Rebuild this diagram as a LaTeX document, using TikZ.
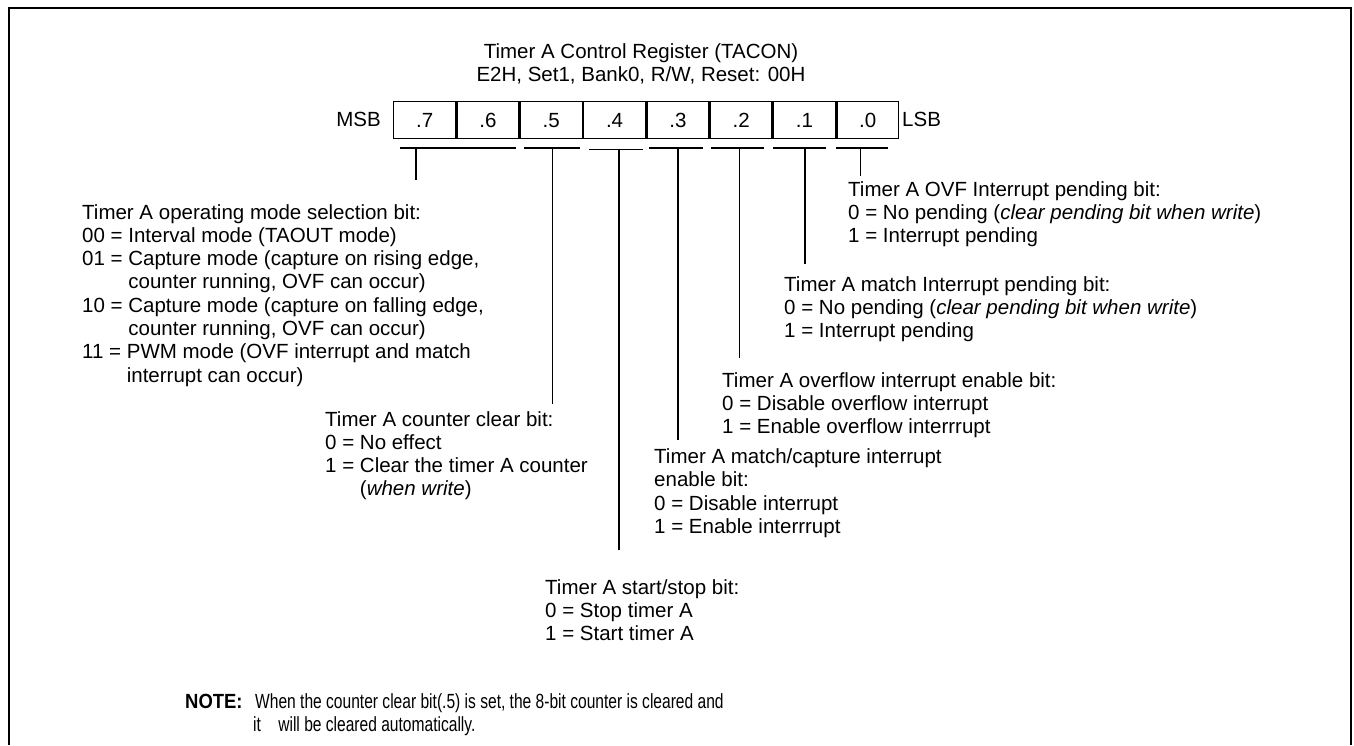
\documentclass[tikz,border=0pt]{standalone}
\usepackage{fontspec}
\setmainfont{Liberation Sans}
\newfontfamily\notefont[FakeStretch=0.76]{Liberation Sans}
\newfontfamily\notelabelfont[FakeStretch=0.9]{Liberation Sans}
\begin{document}
\begin{tikzpicture}[x=1pt,y=-1pt,
  txt/.style={anchor=base west,inner sep=0pt,font=\fontsize{20.5}{23.3}\selectfont},
  ctxt/.style={anchor=base,inner sep=0pt,font=\fontsize{20.5}{23.3}\selectfont},
  cellbox/.style={draw,line width=1.4pt,minimum width=61.9pt,minimum height=37pt,inner sep=0pt,anchor=north west,font=\fontsize{20.5}{23.3}\selectfont},
  uline/.style={line width=1.1pt},
  lead/.style={line width=1.1pt},
  frame/.style={line width=2pt}]
\useasboundingbox (0,0) rectangle (1354,745);
\draw[frame] (9,745) -- (9,8) -- (1351,8) -- (1351,745);

% title
\node[ctxt] (title) at (641,58) {\begin{tabular}[t]{@{}c@{}}Timer A Control Register (TACON)\\ E2H, Set1, Bank0, R/W, Reset: 00H\end{tabular}};

% register
\node[cellbox] (b7) at (393,101) {.7};
\node[cellbox] (b6) at (b7.north east) {.6};
\node[cellbox] (b5) at (b6.north east) {.5};
\node[cellbox] (b4) at (b5.north east) {.4};
\node[cellbox] (b3) at (b4.north east) {.3};
\node[cellbox] (b2) at (b3.north east) {.2};
\node[cellbox] (b1) at (b2.north east) {.1};
\node[cellbox] (b0) at (b1.north east) {.0};
\node[ctxt,anchor=base east] (msb) at (381,126.5) {MSB};
\node[ctxt,anchor=base west] (lsb) at (902,126.5) {LSB};

% underlines
\coordinate (u7a) at (400,148);   \coordinate (u7b) at (516,148);
\coordinate (u5a) at (524,148);   \coordinate (u5b) at (580,148);
\coordinate (u4a) at (589,149.5); \coordinate (u4b) at (643,149.5);
\coordinate (u3a) at (649,148);   \coordinate (u3b) at (703,148);
\coordinate (u2a) at (711,148);   \coordinate (u2b) at (764,148);
\coordinate (u1a) at (773,148);   \coordinate (u1b) at (826,148);
\coordinate (u0a) at (836,148);   \coordinate (u0b) at (888,148);
\draw[uline] (u7a) -- (u7b);
\draw[uline] (u5a) -- (u5b);
\draw[uline] (u4a) -- (u4b);
\draw[uline] (u3a) -- (u3b);
\draw[uline] (u2a) -- (u2b);
\draw[uline] (u1a) -- (u1b);
\draw[uline] (u0a) -- (u0b);

% leader lines
\coordinate (t7) at (416,148);   \coordinate (e7) at (416,180);
\coordinate (t5) at (552.5,148); \coordinate (e5) at (552.5,404);
\coordinate (t4) at (619,149.5); \coordinate (e4) at (619,550);
\coordinate (t3) at (678,148);   \coordinate (e3) at (678,440);
\coordinate (t2) at (739.5,148); \coordinate (e2) at (739.5,358);
\coordinate (t1) at (805,148);   \coordinate (e1) at (805,264);
\coordinate (t0) at (860.5,148); \coordinate (e0) at (860.5,176);
\draw[lead] (t7) -- (e7);
\draw[lead] (t5) -- (e5);
\draw[lead] (t4) -- (e4);
\draw[lead] (t3) -- (e3);
\draw[lead] (t2) -- (e2);
\draw[lead] (t1) -- (e1);
\draw[lead] (t0) -- (e0);

% descriptions
\node[txt] (opmode) at (82,219) {\begin{tabular}[t]{@{}l@{}}
Timer A operating mode selection bit:\\
00 = Interval mode (TAOUT mode)\\
01 = Capture mode (capture on rising edge,\\
\phantom{01 = }counter running, OVF can occur)\\
10 = Capture mode (capture on falling edge,\\
\phantom{10 = }counter running, OVF can occur)\\
11 = PWM mode (OVF interrupt and match\\
\phantom{11 = }interrupt can occur)
\end{tabular}};

\node[txt] (clr) at (325,426) {\begin{tabular}[t]{@{}l@{}}
Timer A counter clear bit:\\
0 = No effect\\
1 = Clear the timer A counter\\
\phantom{1 = }(\textit{when write})
\end{tabular}};

\node[txt] (ss) at (545,594) {\begin{tabular}[t]{@{}l@{}}
Timer A start/stop bit:\\
0 = Stop timer A\\
1 = Start timer A
\end{tabular}};

\node[txt] (mcie) at (654,463.5) {\begin{tabular}[t]{@{}l@{}}
Timer A match/capture interrupt\\
enable bit:\\
0 = Disable interrupt\\
1 = Enable interrrupt
\end{tabular}};

\node[txt] (ovie) at (722,387) {\begin{tabular}[t]{@{}l@{}}
Timer A overflow interrupt enable bit:\\
0 = Disable overflow interrupt\\
1 = Enable overflow interrrupt
\end{tabular}};

\node[txt] (mip) at (784,291) {\begin{tabular}[t]{@{}l@{}}
Timer A match Interrupt pending bit:\\
0 = No pending (\textit{clear pending bit when write})\\
1 = Interrupt pending
\end{tabular}};

\node[txt] (oip) at (848,196) {\begin{tabular}[t]{@{}l@{}}
Timer A OVF Interrupt pending bit:\\
0 = No pending (\textit{clear pending bit when write})\\
1 = Interrupt pending
\end{tabular}};

% note
\node[txt] (notelbl) at (185,708) {\notelabelfont\bfseries NOTE:};
\node[txt] (note) at (255,708) {\notefont\begin{tabular}[t]{@{}l@{}}
When the counter clear bit(.5) is set, the 8-bit counter is cleared and\\
\hspace{-2pt}it\ \ \ \ will be cleared automatically.
\end{tabular}};
\end{tikzpicture}
\end{document}
